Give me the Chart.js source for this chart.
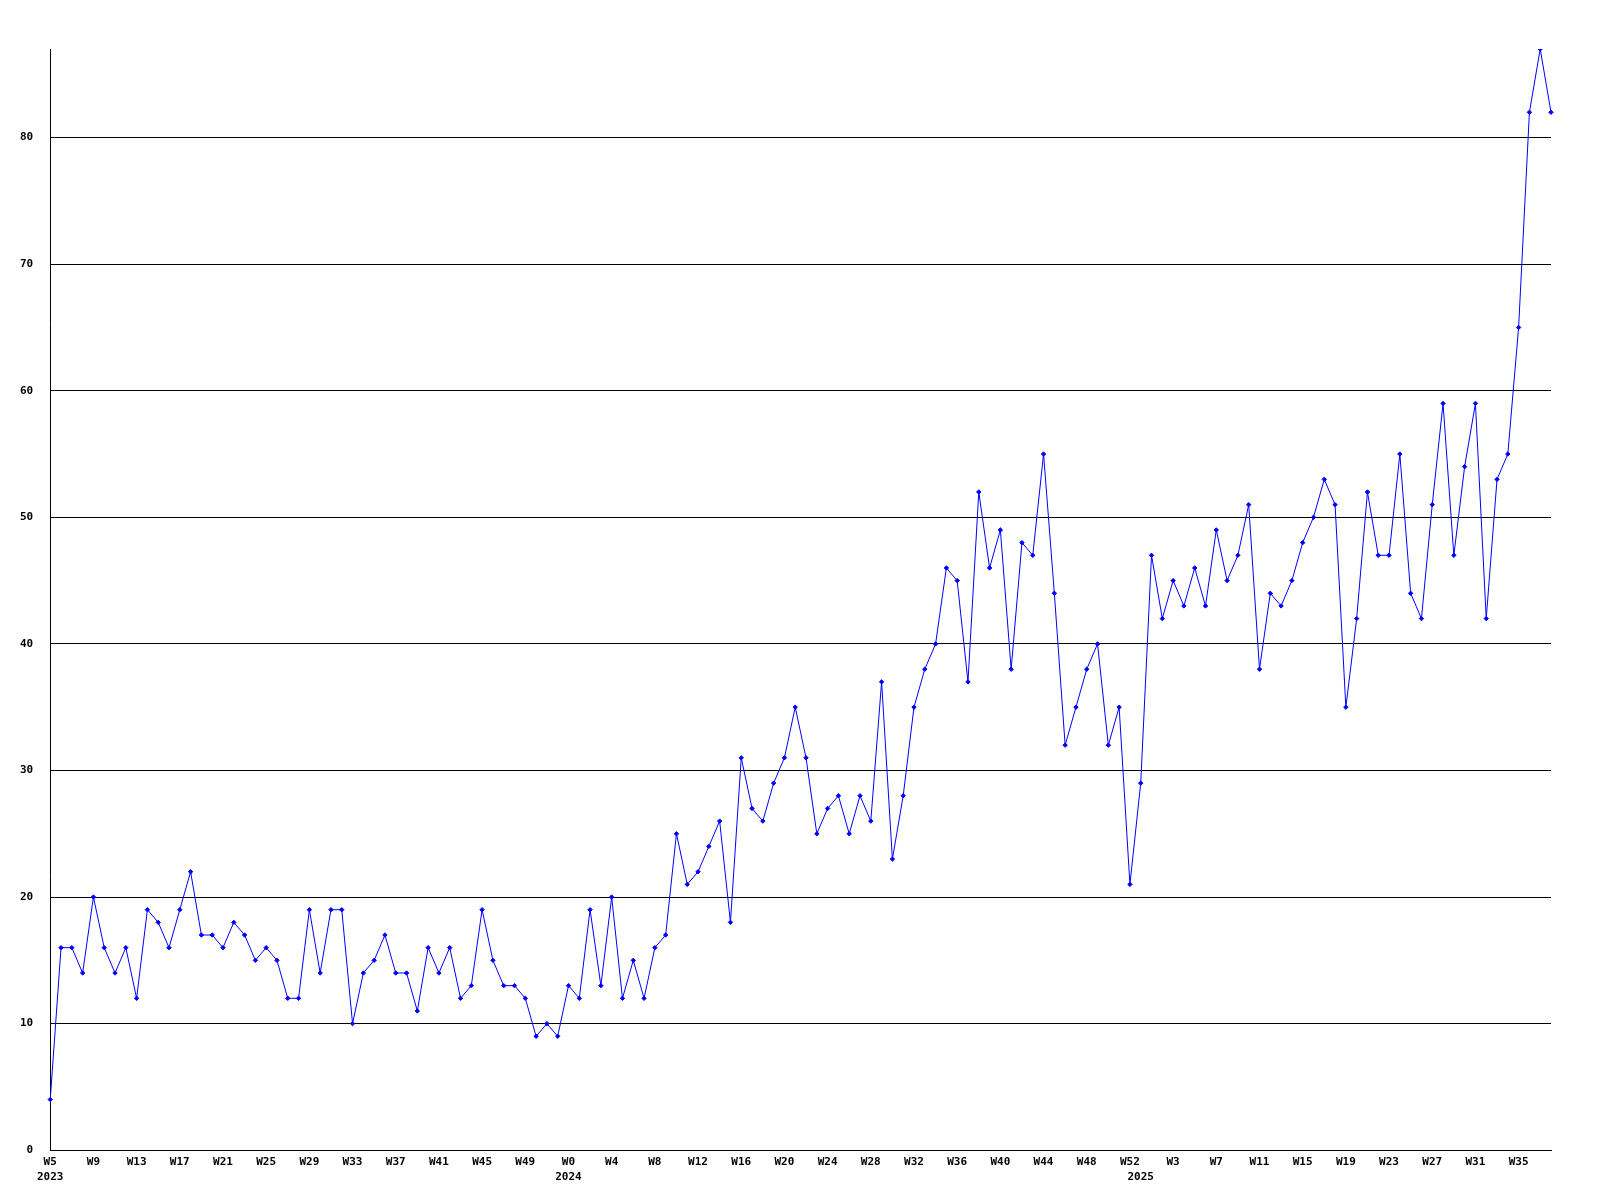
<!DOCTYPE html>
<html>
<head>
<meta charset="utf-8">
<script src="https://cdn.jsdelivr.net/npm/chart.js@4"></script>
<style>
  html, body { margin: 0; padding: 0; background: #fff; }
  #wrap { width: 1600px; height: 1200px; }
</style>
</head>
<body>
<div id="wrap"><canvas id="chart" width="1600" height="1200"></canvas></div>
<script>
const years = ["2023", "2024", "2025"];

const weeks2023 = ["W5", "W6", "W7", "W8", "W9", "W10", "W11", "W12", "W13", "W14", "W15", "W16",
  "W17", "W18", "W19", "W20", "W21", "W22", "W23", "W24", "W25", "W26", "W27", "W28",
  "W29", "W30", "W31", "W32", "W33", "W34", "W35", "W36", "W37", "W38", "W39", "W40",
  "W41", "W42", "W43", "W44", "W45", "W46", "W47", "W48", "W49", "W50", "W51", "W52"];

const weeks2024 = ["W0", "W1", "W2", "W3", "W4", "W5", "W6", "W7", "W8", "W9", "W10", "W11",
  "W12", "W13", "W14", "W15", "W16", "W17", "W18", "W19", "W20", "W21", "W22", "W23",
  "W24", "W25", "W26", "W27", "W28", "W29", "W30", "W31", "W32", "W33", "W34", "W35",
  "W36", "W37", "W38", "W39", "W40", "W41", "W42", "W43", "W44", "W45", "W46", "W47",
  "W48", "W49", "W50", "W51", "W52"];

const weeks2025 = ["W0", "W1", "W2", "W3", "W4", "W5", "W6", "W7", "W8", "W9", "W10", "W11",
  "W12", "W13", "W14", "W15", "W16", "W17", "W18", "W19", "W20", "W21", "W22", "W23",
  "W24", "W25", "W26", "W27", "W28", "W29", "W30", "W31", "W32", "W33", "W34", "W35",
  "W36", "W37", "W38"];

// weekly counts, one per category
const counts = [
  4, 16, 16, 14, 20, 16, 14, 16, 12, 19, 18, 16, 19, 22, 17, 17, 16, 18, 17, 15,
  16, 15, 12, 12, 19, 14, 19, 19, 10, 14, 15, 17, 14, 14, 11, 16, 14, 16, 12, 13,
  19, 15, 13, 13, 12, 9, 10, 9, 13, 12, 19, 13, 20, 12, 15, 12, 16, 17, 25, 21,
  22, 24, 26, 18, 31, 27, 26, 29, 31, 35, 31, 25, 27, 28, 25, 28, 26, 37, 23, 28,
  35, 38, 40, 46, 45, 37, 52, 46, 49, 38, 48, 47, 55, 44, 32, 35, 38, 40, 32, 35,
  21, 29, 47, 42, 45, 43, 46, 43, 49, 45, 47, 51, 38, 44, 43, 45, 48, 50, 53, 51,
  35, 42, 52, 47, 47, 55, 44, 42, 51, 59, 47, 54, 59, 42, 53, 55, 65, 82, 87, 82
];

const yTicks = [0, 10, 20, 30, 40, 50, 60, 70, 80];

const categories = weeks2023.concat(weeks2024, weeks2025);
const yearStart = [0, weeks2023.length, weeks2023.length + weeks2024.length];

const tickFont = { family: "DejaVu Sans Mono", size: 11, weight: "bold", lineHeight: 1.4 };

new Chart(document.getElementById("chart"), {
  type: "line",
  data: {
    labels: categories,
    datasets: [
      {
        data: counts,
        borderColor: "#0000ff",
        backgroundColor: "#0000ff",
        borderWidth: 1,
        tension: 0,
        pointStyle: "rectRot",
        pointRadius: 2.2,
        pointBorderWidth: 1,
        fill: false,
      },
    ],
  },
  options: {
    responsive: false,
    animation: false,
    layout: { padding: { top: 49, right: 49, left: 3, bottom: 11 } },
    plugins: { legend: { display: false }, tooltip: { enabled: false } },
    scales: {
      x: {
        offset: false,
        grid: { display: false, drawTicks: false },
        border: { display: true, color: "#000", width: 1 },
        ticks: {
          autoSkip: false,
          maxRotation: 0,
          minRotation: 0,
          padding: 4,
          color: "#000",
          font: tickFont,
          callback: function (value, index) {
            const top = index % 4 === 0 ? categories[index] : "";
            const y = yearStart.indexOf(index);
            const bottom = y >= 0 ? years[y] : "";
            if (!top && !bottom) return "";
            return [top, bottom];
          },
        },
      },
      y: {
        min: 0,
        max: Math.max(...counts),
        afterBuildTicks: function (scale) {
          scale.ticks = yTicks.map((v) => ({ value: v }));
        },
        grid: { color: "#000", lineWidth: 1, drawTicks: false },
        border: { display: true, color: "#000", width: 1 },
        ticks: {
          padding: 17,
          color: "#000",
          font: tickFont,
        },
      },
    },
  },
});
</script>
</body>
</html>
